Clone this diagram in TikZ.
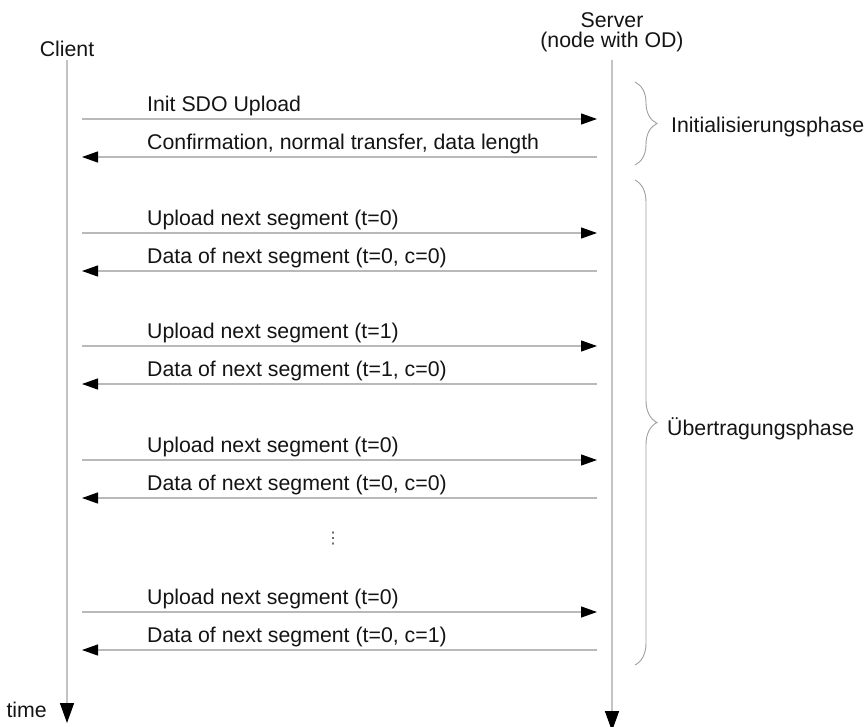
\documentclass[tikz,border=0pt]{standalone}
\usepackage{fontspec}
\setmainfont{Liberation Sans}
\newfontfamily\symfont{DejaVu Sans}
\usetikzlibrary{arrows.meta,decorations.pathreplacing}
\definecolor{lifeline}{RGB}{195,195,195}
\definecolor{msgline}{RGB}{185,185,185}
\definecolor{bracecol}{RGB}{160,160,160}
\begin{document}
\begin{tikzpicture}[x=1pt,y=-1pt,
  txt/.style={inner sep=0pt,font=\fontsize{21.3}{19.5}\selectfont,text=black!92},
  life/.style={draw=lifeline,line width=1.5pt,-{Triangle[length=20pt,width=14pt,color=black]}},
  msg/.style={draw=msgline,line width=1.2pt,-{Triangle[length=16pt,width=11pt,color=black]}},
  phase/.style={draw=bracecol,line width=0.9pt,decorate,decoration={brace,amplitude=22pt,aspect=0.5}}]
\useasboundingbox (0,0) rectangle (867,726);
% lifeline labels
\node[txt,anchor=base] (client) at (67,56) {Client};
\node[txt,anchor=base,align=center] (server) at (612,47) {Server\\(node with OD)};
\node[txt,anchor=base east] (time) at (47,717) {time};
% lifelines
\coordinate (ctop) at (67,60);
\coordinate (cend) at (67,723);
\coordinate (stop) at (612,60);
\coordinate (send) at (612,731);
\draw[life] (ctop) -- (cend);
\draw[life] (stop) -- (send);
% messages
\foreach \i/\y/\d/\t in {
  1/119/r/{Init SDO Upload},
  2/157/l/{Confirmation, normal transfer, data length},
  3/233/r/{Upload next segment (t=0)},
  4/271/l/{Data of next segment (t=0, c=0)},
  5/346/r/{Upload next segment (t=1)},
  6/384/l/{Data of next segment (t=1, c=0)},
  7/460/r/{Upload next segment (t=0)},
  8/498/l/{Data of next segment (t=0, c=0)},
  9/612/r/{Upload next segment (t=0)},
  10/650/l/{Data of next segment (t=0, c=1)}}{
  \coordinate (c\i) at (82,\y);
  \coordinate (s\i) at (597,\y);
  \node[txt,anchor=base west] (l\i) at (147,\y-7.5) {\t};
  \if\d r
    \draw[msg] (c\i) -- (s\i);
  \else
    \draw[msg] (s\i) -- (c\i);
  \fi
}
% ellipsis
\node[inner sep=0pt,font=\symfont\fontsize{16}{16}\selectfont,text=black!70] (dots) at (333,539) {⋮};
% phases
\coordinate (b1t) at (635,82);
\coordinate (b1b) at (635,165);
\coordinate (b2t) at (635,180);
\coordinate (b2b) at (635,665);
\draw[phase] (b1t) -- (b1b);
\draw[phase] (b2t) -- (b2b);
\node[txt,anchor=base west] (init) at (671,132) {Initialisierungsphase};
\node[txt,anchor=base west] (trans) at (667,435) {Übertragungsphase};
\end{tikzpicture}
\end{document}
